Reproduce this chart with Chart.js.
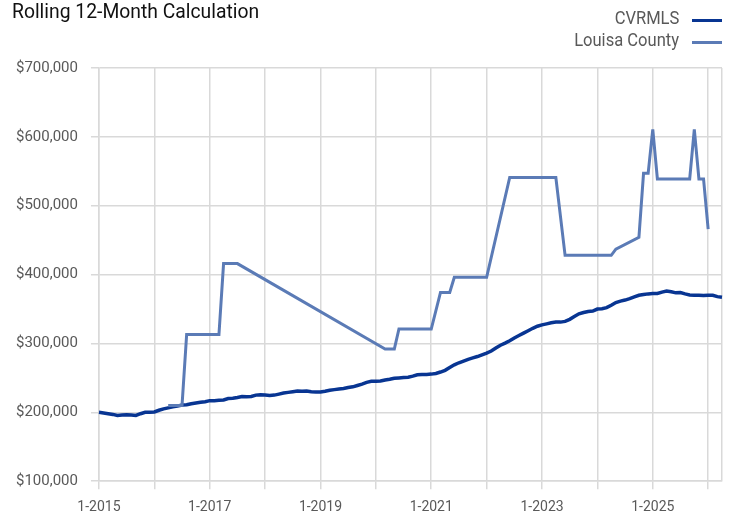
<!DOCTYPE html>
<html>
<head>
<meta charset="utf-8">
<script src="https://cdn.jsdelivr.net/npm/chart.js@4"></script>
<style>
  body { margin: 0; background: #fff; }
  #wrap { position: relative; width: 733px; height: 515px; font-family: Roboto, sans-serif; }
  #title { position: absolute; left: 12px; top: 1px; font-size: 21px; line-height: 1; color: #111;
           transform: scaleX(0.92); transform-origin: left top; white-space: nowrap; }
  #legend { position: absolute; right: 11px; top: 7px; }
  .row { display: flex; justify-content: flex-end; height: 22px; font-size: 18px; line-height: 22px; color: #595959; }
  .row span.txt { display: inline-block; transform: scaleX(0.92); transform-origin: right center; white-space: nowrap; }
  .swatch { width: 30px; height: 3px; margin: 12px 0 0 13px; }
</style>
</head>
<body>
<div id="wrap">
  <canvas id="chart" width="733" height="515"></canvas>
  <div id="title">Rolling 12-Month Calculation</div>
  <div id="legend"></div>
</div>
<script>
// month labels 1-2015 .. 4-2026
var months = [];
for (var y = 2015; y <= 2026; y++) {
    for (var m = 1; m <= 12; m++) {
        if (y === 2026 && m > 4) break;
        months.push(m + '-' + y);
    }
}

var seriesNames = ['CVRMLS', 'Louisa County'];
var seriesColors = ['#083592', '#5b7bb6'];

var cvrmls = [
    200000, 199000, 198000, 197000, 195500, 196000, 196500, 196000, 195500, 198000, 200000, 200000,
    200500, 203000, 205000, 206500, 208000, 209000, 210500, 211000, 212500, 213500, 214500, 215500,
    217000, 217000, 217500, 218000, 220000, 220500, 221500, 223000, 222500, 223000, 225000, 225500,
    225000, 224500, 225000, 226500, 228000, 229000, 230000, 231000, 230500, 231000, 230000, 229500,
    229500, 230500, 232000, 233000, 234000, 234500, 236000, 237000, 239000, 241000, 243500, 245000,
    245000, 245500, 247000, 248000, 249500, 250000, 250500, 251000, 252500, 254500, 255000, 255000,
    255500, 256500, 258500, 261000, 265000, 269000, 272000, 274500, 277000, 279000, 281000, 283500,
    286000, 289000, 293500, 297500, 300500, 304000, 308000, 311500, 315000, 318500, 322000, 325000,
    327000, 328500, 330000, 331000, 331000, 332000, 335000, 339000, 343000, 345000, 346500, 347000,
    350000, 350500, 352000, 355500, 359500, 361500, 363000, 365000, 367500, 370000, 371000, 372000,
    372500, 372500, 374500, 376000, 375000, 373500, 374000, 372000, 370500, 370000, 370000, 369500,
    370000, 370000, 368000, 367000
];

// gaps are months with no sales; the line spans them
var louisa = [
    null, null, null, null, null, null, null, null, null, null, null, null,
    null, null, null, 210000, 210000, 210000, 210000, 313000, 313000, 313000, 313000, 313000,
    313000, 313000, 313000, 416000, 416000, 416000, 416000, null, null, null, null, null,
    null, null, null, null, null, null, null, null, null, null, null, null,
    null, null, null, null, null, null, null, null, null, null, null, null,
    null, null, 292000, 292000, 292000, 321000, 321000, 321000, 321000, 321000, 321000, 321000,
    321000, null, 374000, 374000, 374000, 396000, 396000, 396000, 396000, 396000, 396000, 396000,
    396000, null, null, null, null, 541000, 541000, 541000, 541000, 541000, 541000, 541000,
    541000, 541000, 541000, 541000, null, 428000, 428000, 428000, 428000, 428000, 428000, 428000,
    428000, 428000, 428000, 428000, 437000, null, null, null, null, 454000, 547000, 547000,
    611000, 539000, 539000, 539000, 539000, 539000, 539000, 539000, 539000, 611000, 539000, 539000,
    466000, null, null, null
];

var yTicks = [100000, 700000, 100000]; // min, max, step

Chart.defaults.font.family = 'Roboto, sans-serif';
Chart.defaults.color = '#595959';

var gridColor = '#d9d9d9';

var chart = new Chart(document.getElementById('chart'), {
    type: 'line',
    data: {
        labels: months,
        datasets: [{
            label: seriesNames[0],
            data: cvrmls,
            borderColor: seriesColors[0],
            backgroundColor: seriesColors[0],
            borderWidth: 3.5,
            pointRadius: 0,
            tension: 0,
            order: 1
        }, {
            label: seriesNames[1],
            data: louisa,
            borderColor: seriesColors[1],
            backgroundColor: seriesColors[1],
            borderWidth: 3,
            pointRadius: 0,
            tension: 0,
            spanGaps: true,
            order: 0
        }]
    },
    options: {
        responsive: false,
        animation: false,
        // chart.js reserves 2x the tick padding, hence the odd numbers
        layout: { padding: { left: 3, right: 11, top: 68, bottom: -11 } },
        plugins: {
            legend: { display: false },
            tooltip: { enabled: false }
        },
        scales: {
            x: {
                border: { color: gridColor, width: 1.5 },
                grid: {
                    color: function (c) {
                        return (c.index % 12 === 0 || c.index === months.length - 1) ? gridColor : 'rgba(0,0,0,0)';
                    },
                    tickColor: function (c) {
                        return c.index % 12 === 0 ? gridColor : 'rgba(0,0,0,0)';
                    },
                    lineWidth: 1.5,
                    tickLength: 8
                },
                ticks: {
                    autoSkip: false,
                    maxRotation: 0,
                    padding: 10,
                    font: { size: 14 },
                    callback: function (v, i) {
                        return i % 24 === 0 ? months[i] : '';
                    }
                }
            },
            y: {
                min: yTicks[0],
                max: yTicks[1],
                border: { color: gridColor, width: 1.5 },
                grid: { color: gridColor, lineWidth: 1.5, tickLength: 8 },
                ticks: {
                    stepSize: yTicks[2],
                    padding: 13,
                    font: { size: 15 },
                    callback: function (v) {
                        return '$' + v.toLocaleString('en-US');
                    }
                }
            }
        }
    }
});

// legend: text first, line sample on the right
var legend = document.getElementById('legend');
chart.data.datasets.forEach(function (ds) {
    var row = document.createElement('div');
    row.className = 'row';
    var txt = document.createElement('span');
    txt.className = 'txt';
    txt.textContent = ds.label;
    var sw = document.createElement('span');
    sw.className = 'swatch';
    sw.style.background = ds.borderColor;
    row.appendChild(txt);
    row.appendChild(sw);
    legend.appendChild(row);
});
</script>
</body>
</html>
